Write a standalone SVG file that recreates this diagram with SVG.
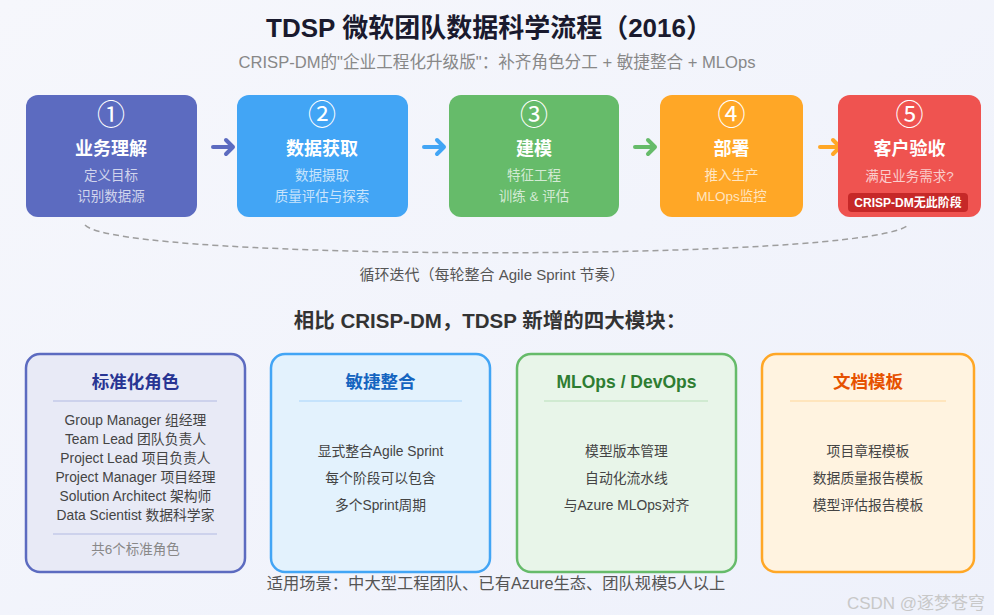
<svg xmlns="http://www.w3.org/2000/svg" width="994" height="615" viewBox="0 0 994 615">
<defs>
<linearGradient id="bg" x1="0" y1="0" x2="1" y2="1">
<stop offset="0" stop-color="#f6f7fc"/>
<stop offset="1" stop-color="#eef1fb"/>
</linearGradient>
<style>
text{font-family:"Liberation Sans","Noto Sans CJK SC",sans-serif;text-anchor:middle;}
.title{font-size:26px;font-weight:bold;fill:#1a1a2e;}
.sub{font-size:16.6px;fill:#888;}
.num{font-size:28px;fill:#fff;font-family:"Noto Sans CJK SC",sans-serif;}
.stitle{font-size:18px;font-weight:bold;fill:#fff;}
.sdesc{font-size:13.5px;fill:#fff;fill-opacity:0.72;}
.badge{font-size:12px;font-weight:bold;fill:#fff;}
.arrow{fill:none;stroke-width:4;stroke-linecap:round;stroke-linejoin:round;}
.loop{fill:none;stroke:#9e9e9e;stroke-width:1.5;stroke-dasharray:6 4;}
.note{font-size:15px;fill:#555;}
.h2{font-size:20.5px;font-weight:bold;fill:#333;}
.mbox{stroke-width:2.5;}
.mtitle{font-size:17.5px;font-weight:bold;}
.mline{font-size:13.8px;fill:#444;}
.mfoot{font-size:13.5px;fill:#888;}
.div{stroke-width:1.5;}
.foot{font-size:16.3px;fill:#555;}
.wm{font-size:17px;fill:#c8c8c8;}
</style>
</defs>
<rect width="994" height="615" fill="url(#bg)"/>
<text class="title" x="489" y="37">TDSP 微软团队数据科学流程（2016）</text>
<text class="sub" x="497" y="68">CRISP-DM的"企业工程化升级版"：补齐角色分工 + 敏捷整合 + MLOps</text>

<g id="connectors">
<path class="arrow" stroke="#5c6bc0" d="M213,147 H233 M226,140 L233,147 L226,154"/>
<path class="arrow" stroke="#42a5f5" d="M424,147 H444 M437,140 L444,147 L437,154"/>
<path class="arrow" stroke="#66bb6a" d="M635,147 H655 M648,140 L655,147 L648,154"/>
<path class="arrow" stroke="#ffa726" d="M820,147 H840 M833,140 L840,147 L833,154"/>
<path class="loop" d="M85,225 C120,262 870,262 908,225"/>
</g>

<g id="step1">
<rect x="26" y="95" width="171" height="122" rx="12" fill="#5c6bc0"/>
<text class="num" x="111" y="125">①</text>
<text class="stitle" x="111" y="155">业务理解</text>
<text class="sdesc" x="111" y="180">定义目标</text>
<text class="sdesc" x="111" y="201">识别数据源</text>
</g>
<g id="step2">
<rect x="237" y="95" width="171" height="122" rx="12" fill="#42a5f5"/>
<text class="num" x="322" y="125">②</text>
<text class="stitle" x="322" y="155">数据获取</text>
<text class="sdesc" x="322" y="180">数据摄取</text>
<text class="sdesc" x="322" y="201">质量评估与探索</text>
</g>
<g id="step3">
<rect x="449" y="95" width="170" height="122" rx="12" fill="#66bb6a"/>
<text class="num" x="534" y="125">③</text>
<text class="stitle" x="534" y="155">建模</text>
<text class="sdesc" x="534" y="180">特征工程</text>
<text class="sdesc" x="534" y="201">训练 &amp; 评估</text>
</g>
<g id="step4">
<rect x="660" y="95" width="143" height="122" rx="12" fill="#ffa726"/>
<text class="num" x="731.5" y="125">④</text>
<text class="stitle" x="731.5" y="155">部署</text>
<text class="sdesc" x="731.5" y="180">推入生产</text>
<text class="sdesc" x="731.5" y="201">MLOps监控</text>
</g>
<g id="step5">
<rect x="838" y="95" width="143" height="122" rx="12" fill="#ef5350"/>
<text class="num" x="909.5" y="125">⑤</text>
<text class="stitle" x="909.5" y="155">客户验收</text>
<text class="sdesc" x="909.5" y="181">满足业务需求?</text>
<rect x="848" y="193" width="120" height="19" rx="4" fill="#c62828"/>
<text class="badge" x="908" y="207">CRISP-DM无此阶段</text>
</g>

<text class="note" x="492" y="280">循环迭代（每轮整合 Agile Sprint 节奏）</text>
<text class="h2" x="490" y="328">相比 CRISP-DM，TDSP 新增的四大模块：</text>

<g id="module-roles">
<rect class="mbox" x="26" y="354" width="219" height="218" rx="14" fill="#e8eaf6" stroke="#5c6bc0"/>
<text class="mtitle" x="135.5" y="388" fill="#283593">标准化角色</text>
<line class="div" x1="53" y1="401" x2="217" y2="401" stroke="#c5cae9"/>
<text class="mline" x="135.5" y="425">Group Manager 组经理</text>
<text class="mline" x="135.5" y="444">Team Lead 团队负责人</text>
<text class="mline" x="135.5" y="463">Project Lead 项目负责人</text>
<text class="mline" x="135.5" y="482">Project Manager 项目经理</text>
<text class="mline" x="135.5" y="501">Solution Architect 架构师</text>
<text class="mline" x="135.5" y="520">Data Scientist 数据科学家</text>
<line class="div" x1="53" y1="534" x2="217" y2="534" stroke="#c5cae9"/>
<text class="mfoot" x="135.5" y="554">共6个标准角色</text>
</g>
<g id="module-agile">
<rect class="mbox" x="271" y="354" width="219" height="218" rx="14" fill="#e3f2fd" stroke="#42a5f5"/>
<text class="mtitle" x="380.5" y="388" fill="#1565c0">敏捷整合</text>
<line class="div" x1="299" y1="401" x2="462" y2="401" stroke="#bbdefb"/>
<text class="mline" x="380.5" y="456">显式整合Agile Sprint</text>
<text class="mline" x="380.5" y="483">每个阶段可以包含</text>
<text class="mline" x="380.5" y="510">多个Sprint周期</text>
</g>
<g id="module-mlops">
<rect class="mbox" x="517" y="354" width="219" height="218" rx="14" fill="#e8f5e9" stroke="#66bb6a"/>
<text class="mtitle" x="626.5" y="388" fill="#2e7d32">MLOps / DevOps</text>
<line class="div" x1="544" y1="401" x2="708" y2="401" stroke="#c8e6c9"/>
<text class="mline" x="626.5" y="456">模型版本管理</text>
<text class="mline" x="626.5" y="483">自动化流水线</text>
<text class="mline" x="626.5" y="510">与Azure MLOps对齐</text>
</g>
<g id="module-docs">
<rect class="mbox" x="762" y="354" width="212" height="218" rx="14" fill="#fff3e0" stroke="#ffa726"/>
<text class="mtitle" x="868" y="388" fill="#e65100">文档模板</text>
<line class="div" x1="790" y1="401" x2="946" y2="401" stroke="#ffe0b2"/>
<text class="mline" x="868" y="456">项目章程模板</text>
<text class="mline" x="868" y="483">数据质量报告模板</text>
<text class="mline" x="868" y="510">模型评估报告模板</text>
</g>

<text class="foot" x="496" y="589">适用场景：中大型工程团队、已有Azure生态、团队规模5人以上</text>
<text class="wm" x="916" y="609">CSDN @逐梦苍穹</text>
</svg>
